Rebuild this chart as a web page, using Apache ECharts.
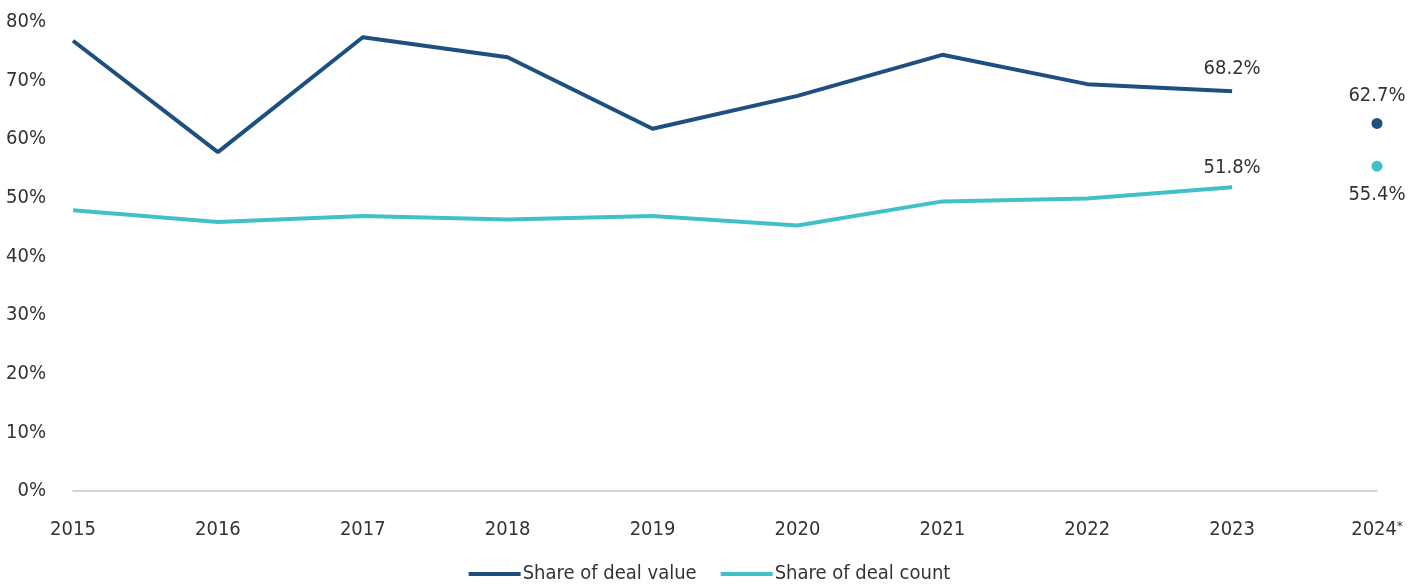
<!DOCTYPE html>
<html>
<head>
<meta charset="utf-8">
<title>Share of deal value and count</title>
<script src="https://cdn.jsdelivr.net/npm/echarts@6/dist/echarts.min.js"></script>
<style>
	html, body { margin: 0; padding: 0; background: #fff; }
	#chart { width: 1419px; height: 586px; }
</style>
</head>
<body>
<div id="chart"></div>
<script>
// 数据（%）
const years = ['2015', '2016', '2017', '2018', '2019', '2020', '2021', '2022', '2023', '2024*'];
const dealValueShare = [76.8, 57.8, 77.4, 74.0, 61.8, 67.4, 74.4, 69.4, 68.2, null];
const dealCountShare = [47.9, 45.9, 46.9, 46.3, 46.9, 45.3, 49.4, 49.9, 51.8, null];
// 2024 年初至今，单独画点
const dealValue2024 = 62.7;
const dealCount2024 = 55.4;
const yTicks = [0, 10, 20, 30, 40, 50, 60, 70, 80];

const NAVY = '#1d4f7f';
const TEAL = '#40c1c8';
const TEXT = '#333333';
const fontFamily = '"DejaVu Sans", sans-serif';
// zrender 把 fontWeight 原样拼进 canvas font 串，借此加上 font-stretch
const fontWeight = 'condensed';
const FS = 20;

const lastIdx = years.length - 2;

// 线：只在最后一个点显示标签
const lineData = (arr, labelDist) => arr.map((v, i) => {
	if (v === null) return '-';
	if (i !== lastIdx) return v;
	return { value: v, label: { show: true, position: 'top', distance: labelDist } };
});

// 2024 单点
const dotData = (v, pos, dist) => years.map((y, i) => (
	i === years.length - 1
		? { value: v, label: { show: true, position: pos, distance: dist } }
		: '-'
));

const txt = { color: TEXT, fontSize: FS, fontFamily, fontWeight };
const labelStyle = { ...txt, formatter: '{c}%' };

const buildOption = () => ({
	backgroundColor: '#fff',
	animation: false,
	textStyle: { fontFamily },
	grid: { left: 73, right: 42, top: 22, bottom: 95, containLabel: false },
	legend: {
		data: ['Share of deal value', 'Share of deal count'],
		bottom: -3,
		left: 'center',
		icon: 'rect',
		itemWidth: 52,
		itemHeight: 4,
		itemGap: 24,
		textStyle: { ...txt, padding: [0, 0, 0, -3] },
	},
	xAxis: {
		type: 'category',
		data: years,
		boundaryGap: false,
		axisLine: { lineStyle: { color: '#c9c5bd', width: 1.5 } },
		axisTick: { show: false },
		axisLabel: {
			...txt,
			margin: 29,
			interval: 0,
			hideOverlap: false,
			// 2024* 的星号上标
			formatter: (v) => v.endsWith('*') ? `{y|${v.slice(0, -1)}}{s|*}` : v,
			rich: {
				y: { ...txt },
				s: { ...txt, fontSize: 13, verticalAlign: 'top', padding: [0, 0, 6, 0] },
			},
		},
		splitLine: { show: false },
	},
	yAxis: {
		type: 'value',
		min: yTicks[0],
		max: yTicks[yTicks.length - 1],
		interval: 10,
		axisLine: { show: false },
		axisTick: { show: false },
		axisLabel: { ...txt, margin: 27, formatter: '{value}%' },
		splitLine: { show: false },
	},
	series: [
		{
			name: 'Share of deal value',
			type: 'line',
			data: lineData(dealValueShare, 12),
			color: NAVY,
			lineStyle: { width: 4, color: NAVY },
			symbol: 'circle',
			symbolSize: 0,
			label: labelStyle,
		},
		{
			name: 'Share of deal count',
			type: 'line',
			data: lineData(dealCountShare, 10),
			color: TEAL,
			lineStyle: { width: 4, color: TEAL },
			symbol: 'circle',
			symbolSize: 0,
			label: labelStyle,
		},
		{
			name: 'value 2024',
			type: 'scatter',
			data: dotData(dealValue2024, 'top', 12),
			symbolSize: 11,
			itemStyle: { color: NAVY, opacity: 1 },
			label: labelStyle,
		},
		{
			name: 'count 2024',
			type: 'scatter',
			data: dotData(dealCount2024, 'bottom', 13),
			symbolSize: 11,
			itemStyle: { color: TEAL, opacity: 1 },
			label: labelStyle,
		},
	],
});

const chart = echarts.init(document.getElementById('chart'));
chart.setOption(buildOption());
</script>
</body>
</html>
